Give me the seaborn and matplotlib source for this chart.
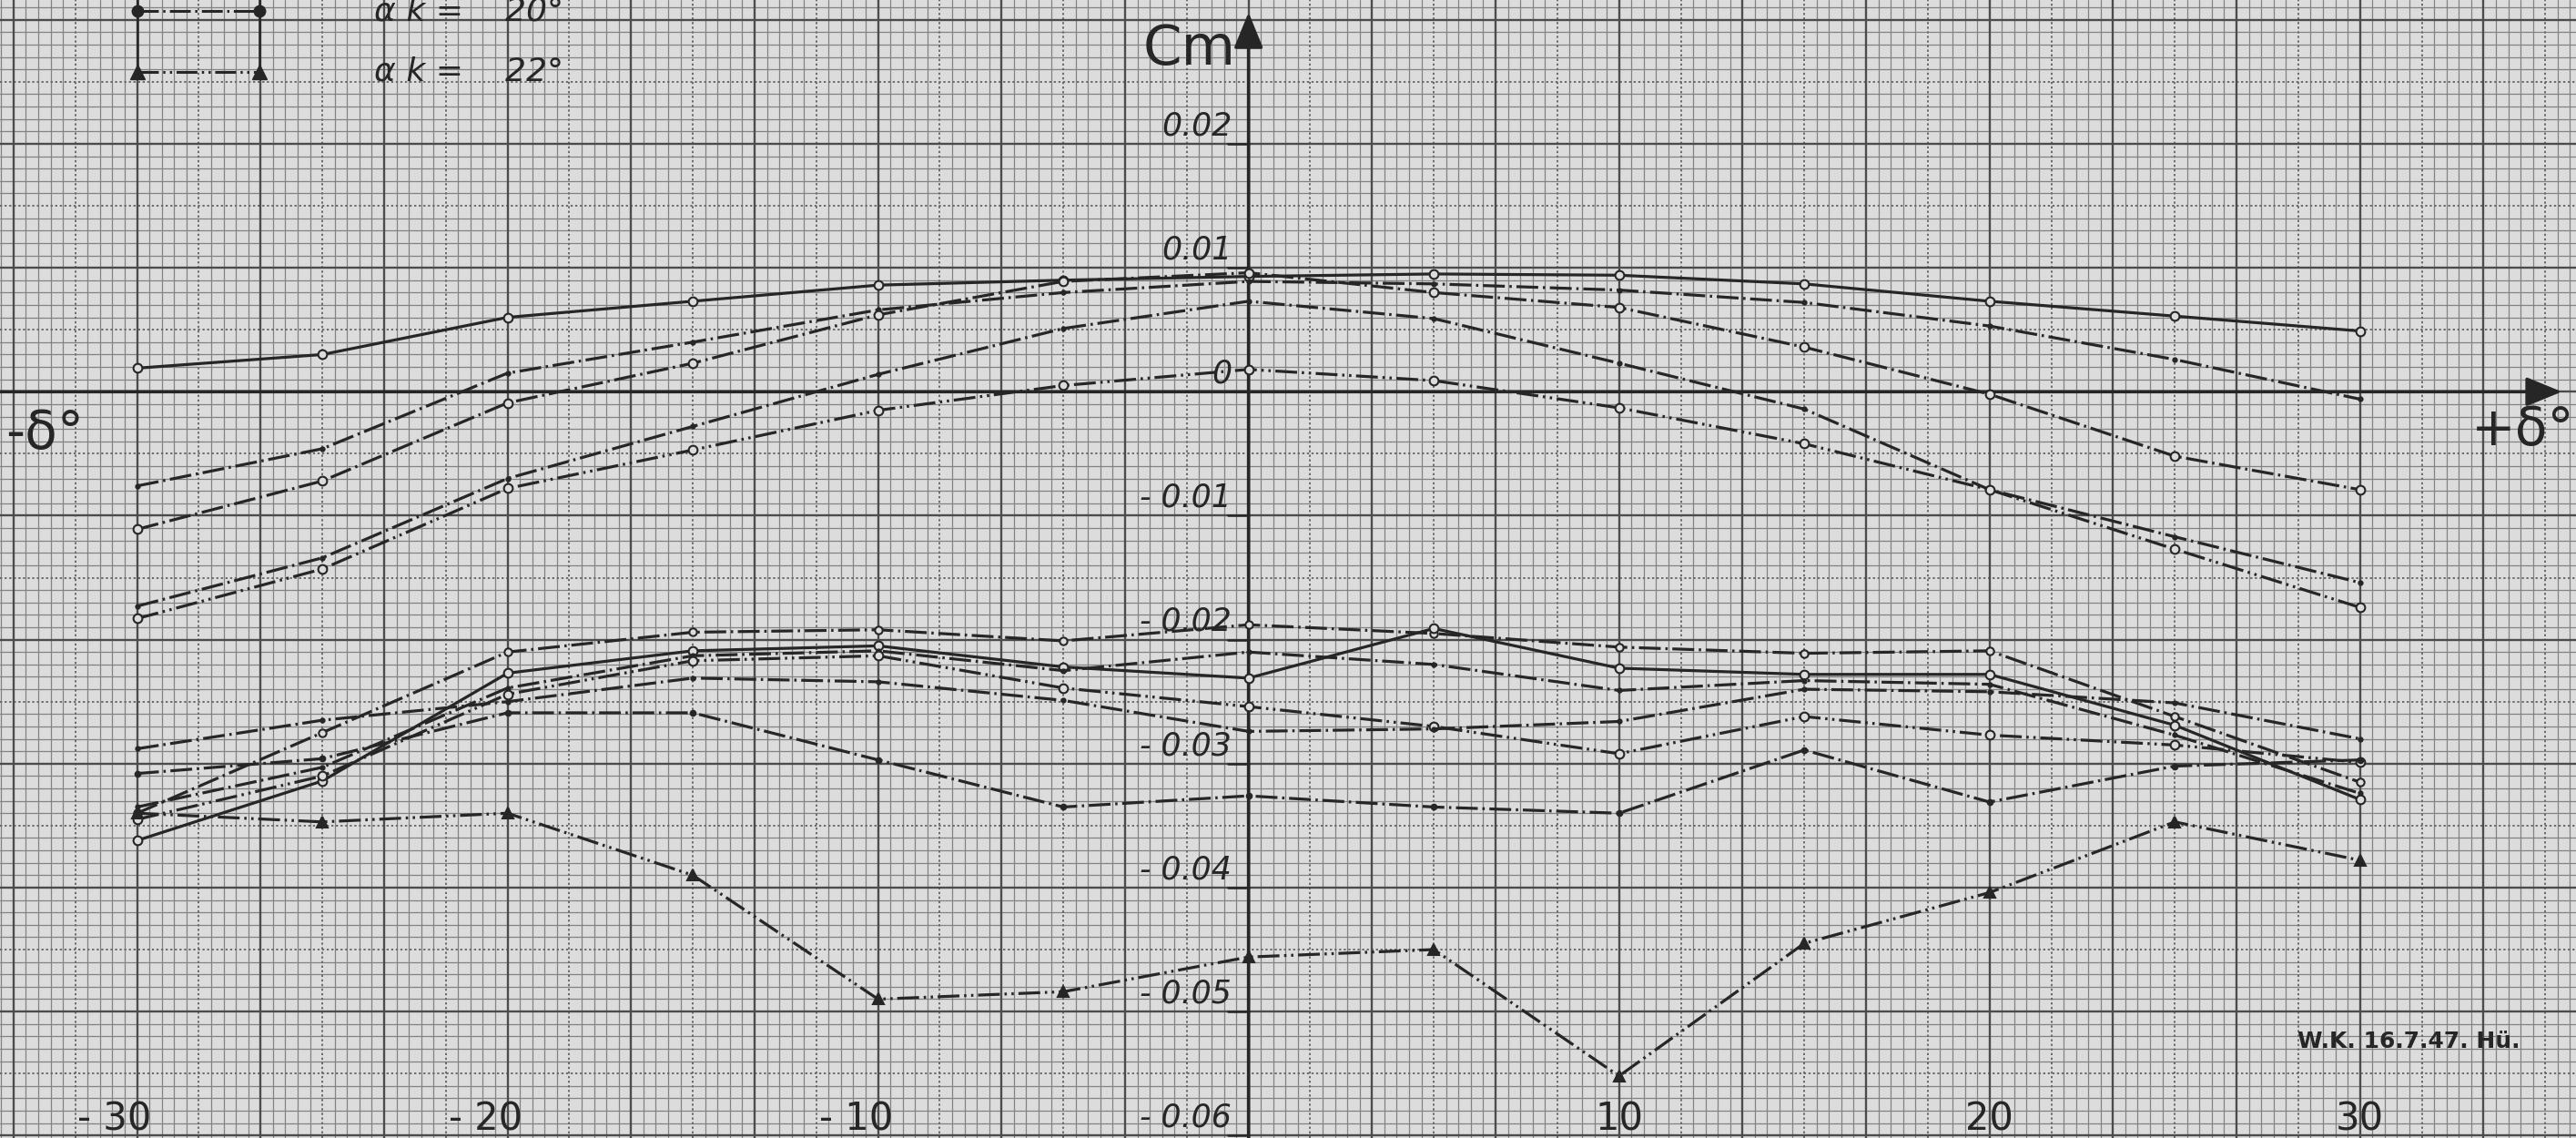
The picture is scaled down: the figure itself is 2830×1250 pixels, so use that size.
import numpy as np
import pandas as pd
import matplotlib
matplotlib.use("Agg")
import matplotlib.pyplot as plt
import seaborn as sns

# ---------------- data ----------------
delta = [-30, -25, -20, -15, -10, -5, 0, 5, 10, 15, 20, 25, 30]

# upper group of curves
up_1 = [0.0019, 0.0030, 0.0060, 0.0073, 0.0086, 0.0090, 0.0093, 0.0095, 0.0094, 0.0087, 0.0073, 0.0061, 0.0049]
up_2 = [-0.0076, -0.0046, 0.0015, 0.0040, 0.0066, 0.0080, 0.0089, 0.0087, 0.0082, 0.0072, 0.0053, 0.0026, -0.0006]
up_3 = [-0.0111, -0.0072, -0.0009, 0.0023, 0.0062, 0.0089, 0.0096, 0.0080, 0.0068, 0.0036, -0.0002, -0.0052, -0.0079]
up_4 = [-0.0173, -0.0134, -0.0070, -0.0028, 0.0014, 0.0051, 0.0073, 0.0059, 0.0023, -0.0014, -0.0079, -0.0117, -0.0154]
up_5 = [-0.0183, -0.0143, -0.0078, -0.0047, -0.0015, 0.0005, 0.0018, 0.0009, -0.0013, -0.0042, -0.0079, -0.0127, -0.0174]

# lower group of curves
lo_1 = [-0.0340, -0.0275, -0.0210, -0.0194, -0.0192, -0.0201, -0.0188, -0.0195, -0.0206, -0.0211, -0.0209, -0.0262, -0.0315]
lo_2 = [-0.0362, -0.0314, -0.0227, -0.0209, -0.0205, -0.0222, -0.0231, -0.0191, -0.0223, -0.0228, -0.0228, -0.0269, -0.0329]
lo_3 = [-0.0335, -0.0303, -0.0239, -0.0213, -0.0209, -0.0225, -0.0210, -0.0220, -0.0241, -0.0233, -0.0236, -0.0277, -0.0324]
lo_4 = [-0.0345, -0.0310, -0.0244, -0.0217, -0.0213, -0.0239, -0.0254, -0.0270, -0.0292, -0.0262, -0.0277, -0.0285, -0.0299]
lo_5 = [-0.0288, -0.0265, -0.0250, -0.0231, -0.0234, -0.0249, -0.0274, -0.0272, -0.0266, -0.0240, -0.0242, -0.0251, -0.0280]
lo_6 = [-0.0308, -0.0296, -0.0259, -0.0259, -0.0297, -0.0335, -0.0326, -0.0335, -0.0340, -0.0289, -0.0331, -0.0302, -0.0297]
# alpha_k = 22 deg (triangles)
lo_tri = [-0.0340, -0.0347, -0.0340, -0.0390, -0.0490, -0.0484, -0.0456, -0.0450, -0.0552, -0.0445, -0.0404, -0.0347, -0.0378]

y_tick_vals = [0.02, 0.01, 0.0, -0.01, -0.02, -0.03, -0.04, -0.05, -0.06]
y_tick_text = ["0.02", "0.01", "0", "- 0.01", "- 0.02", "- 0.03", "- 0.04", "- 0.05", "- 0.06"]
x_tick_vals = [-30, -20, -10, 10, 20, 30]
x_tick_text = ["- 30", "- 20", "- 10", "10", "20", "30"]
legend_text = ["α k =    20°", "α k =    22°"]
stamp_text = "W.K. 16.7.47. Hü."

# ---------------- style ----------------
sns.set_theme(style="white")
plt.rcParams["font.family"] = ["DejaVu Sans"]

paper = "#dcdcdc"
ink = "#262626"

fig = plt.figure(figsize=(28.3, 12.5), dpi=100)
fig.patch.set_facecolor(paper)
ax = fig.add_axes([0, 0, 1, 1])
ax.set_facecolor(paper)
XMIN, XMAX = -33.7, 35.83
YMIN, YMAX = -0.0602, 0.0316
ax.set_xlim(XMIN, XMAX)
ax.set_ylim(YMIN, YMAX)
for s in ax.spines.values():
    s.set_visible(False)
ax.set_xticks([])
ax.set_yticks([])
ax.grid(False)

# ---------------- millimetre paper ----------------
for j in range(-102, 108):
    xv = j / 3.0
    if j % 10 == 0:
        ax.axvline(xv, color="#4c4c4c", lw=1.7, zorder=0.6)
    elif j % 10 == 5:
        ax.axvline(xv, color="#6a6a6a", lw=1.4, ls=(0, (1.2, 1.4)), zorder=0.5)
    else:
        ax.axvline(xv, color="#828282", lw=0.9, zorder=0.4)
for i in range(-61, 33):
    yv = i * 0.001
    if i % 10 == 0:
        ax.axhline(yv, color="#4c4c4c", lw=1.7, zorder=0.6)
    elif i % 10 == 5:
        ax.axhline(yv, color="#6a6a6a", lw=1.4, ls=(0, (1.2, 1.4)), zorder=0.5)
    else:
        ax.axhline(yv, color="#828282", lw=0.9, zorder=0.4)

# ---------------- axes with arrows ----------------
ax.annotate("", xy=(35.45, 0.0), xytext=(XMIN, 0.0),
            arrowprops=dict(arrowstyle="-|>,head_length=1.1,head_width=0.45",
                            lw=2.6, color=ink, mutation_scale=22, shrinkA=0, shrinkB=0),
            zorder=2)
ax.annotate("", xy=(0.0, 0.0306), xytext=(0.0, YMIN),
            arrowprops=dict(arrowstyle="-|>,head_length=1.1,head_width=0.45",
                            lw=2.6, color=ink, mutation_scale=22, shrinkA=0, shrinkB=0),
            zorder=2)

for v, t in zip(y_tick_vals, y_tick_text):
    ax.plot([-0.55, 0.0], [v, v], color=ink, lw=1.8, zorder=2)
    ax.text(-0.45, v + 0.0002, t, ha="right", va="bottom", fontsize=25,
            color=ink, style="italic", zorder=5)
for v, t in zip(x_tick_vals, x_tick_text):
    ax.text(v - (0.6 if v < 0 else 0), -0.0587, t, ha="center", va="center",
            fontsize=30, color=ink, zorder=5)

ax.text(-1.6, 0.0276, "Cm", ha="center", va="center", fontsize=44, color=ink, zorder=5)
ax.text(-32.5, -0.0034, "-δ°", ha="center", va="center", fontsize=42, color=ink, zorder=5)
ax.text(34.4, -0.0031, "+δ°", ha="center", va="center", fontsize=42, color=ink, zorder=5)
ax.text(28.3, -0.0524, stamp_text, ha="left", va="center", fontsize=18,
        fontweight="bold", color=ink, zorder=5)

# ---------------- legend (hand drawn) ----------------
lx = [-30.0, -26.7]
ly = [0.0307, 0.0258]
dd = (0, (7.5, 1.6, 0.8, 1.6))
ddd = (0, (7.5, 1.6, 0.8, 1.6, 0.8, 1.6))
for xv in lx:
    ax.plot([xv, xv], [ly[1], YMAX], color=ink, lw=1.8, zorder=2)
ax.plot(lx, [ly[0], ly[0]], color=ink, lw=2.2, ls=dd, marker="o", ms=9,
        mfc=ink, mec=ink, zorder=4)
ax.plot(lx, [ly[1], ly[1]], color=ink, lw=2.2, ls=ddd, marker="^", ms=11,
        mfc=ink, mec=ink, zorder=4)
ax.text(-23.6, ly[0], legend_text[0], ha="left", va="center", fontsize=26,
        color=ink, style="italic", zorder=5)
ax.text(-23.6, ly[1], legend_text[1], ha="left", va="center", fontsize=26,
        color=ink, style="italic", zorder=5)

# ---------------- curves ----------------
series = [
    (up_1, "-", "o", paper, 7),
    (up_2, dd, ".", ink, 6),
    (up_3, dd, "o", paper, 7),
    (up_4, dd, ".", ink, 6),
    (up_5, ddd, "o", paper, 7),
    (lo_1, dd, "o", paper, 6),
    (lo_2, "-", "o", paper, 7),
    (lo_3, dd, ".", ink, 6),
    (lo_4, ddd, "o", paper, 7),
    (lo_5, dd, ".", ink, 6),
    (lo_6, dd, ".", ink, 8),
    (lo_tri, ddd, "^", ink, 8),
]
for vals, ls, mk, mfc, ms in series:
    df = pd.DataFrame({"delta": delta, "cm": vals})
    sns.lineplot(data=df, x="delta", y="cm", ax=ax, color=ink, lw=2.3,
                 linestyle=ls, marker=mk, markersize=ms, markerfacecolor=mfc,
                 markeredgecolor=ink, markeredgewidth=1.5, legend=False,
                 errorbar=None, sort=False, zorder=3)

ax.set_xlim(XMIN, XMAX)
ax.set_ylim(YMIN, YMAX)
ax.set_xlabel("")
ax.set_ylabel("")
fig.savefig("out.png", dpi=100, facecolor=paper)
